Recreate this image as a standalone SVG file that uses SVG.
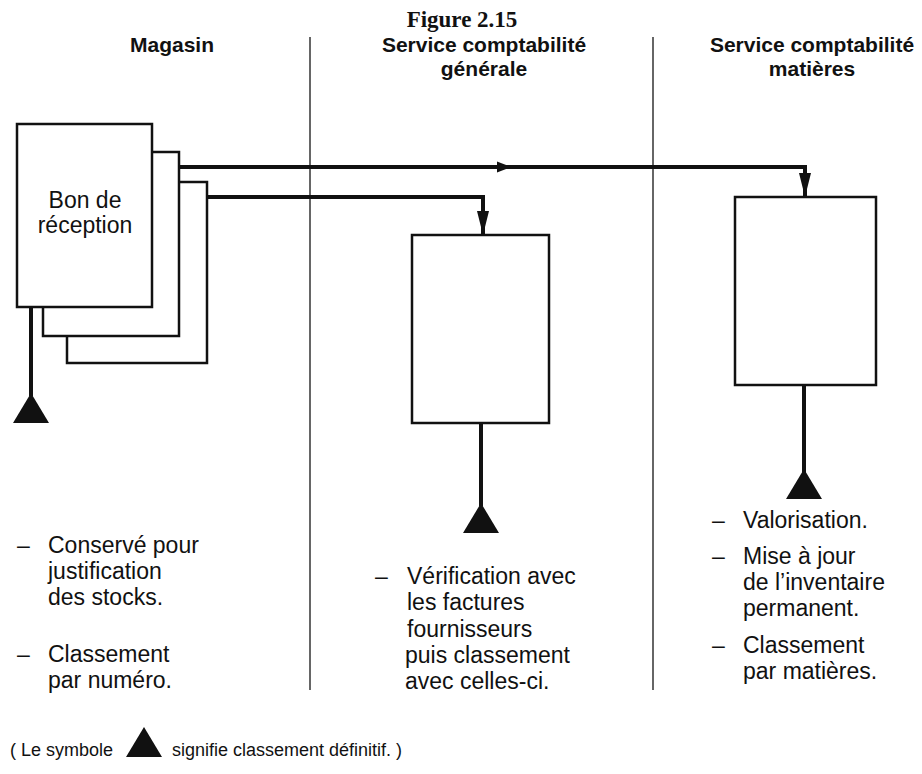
<svg xmlns="http://www.w3.org/2000/svg" width="922" height="774" viewBox="0 0 922 774">
<style>
.title{font-family:"Liberation Serif","Times New Roman",serif;font-weight:bold;font-size:23px;fill:#111}
.head{font-family:"Liberation Sans",Arial,sans-serif;font-weight:bold;font-size:21px;fill:#111}
.body{font-family:"Liberation Sans",Arial,sans-serif;font-size:23px;fill:#111}
.foot{font-family:"Liberation Sans",Arial,sans-serif;font-size:18px;fill:#111}
.doc{fill:#fff;stroke:#111;stroke-width:2.5}
.divider{stroke:#333;stroke-width:1.5;fill:none}
.flow{stroke:#111;stroke-width:4;fill:none}
.tri{fill:#111}
</style>
<defs>
<marker id="arrow" markerUnits="userSpaceOnUse" viewBox="0 0 24 12" markerWidth="24" markerHeight="12" refX="24" refY="6" orient="auto">
<path d="M0,0 L24,6 L0,12 z" fill="#111"/>
</marker>
<symbol id="archive" viewBox="0 0 36 30" width="36" height="30" preserveAspectRatio="none">
<polygon points="18,0 36,30 0,30" class="tri"/>
</symbol>
</defs>

<text class="title" x="462" y="27" text-anchor="middle">Figure 2.15</text>

<g id="headers">
<text class="head" x="172" y="52" text-anchor="middle">Magasin</text>
<text class="head" x="484" y="52" text-anchor="middle">Service comptabilité</text>
<text class="head" x="484" y="76" text-anchor="middle">générale</text>
<text class="head" x="812" y="52" text-anchor="middle">Service comptabilité</text>
<text class="head" x="812" y="76" text-anchor="middle">matières</text>
</g>

<g id="dividers">
<line class="divider" x1="310" y1="37" x2="310" y2="690"/>
<line class="divider" x1="653" y1="37" x2="653" y2="690"/>
</g>

<g id="connectors">
<path class="flow" d="M179,167 H805 V197" marker-end="url(#arrow)"/>
<polygon points="497,161.5 511,167 497,172.5" class="tri"/>
<path class="flow" d="M207,197 H483 V235" marker-end="url(#arrow)"/>
<path class="flow" d="M31,307 V396"/>
<use href="#archive" x="13" y="393"/>
<path class="flow" d="M481,423 V506"/>
<use href="#archive" x="463" y="503"/>
<path class="flow" d="M804,385 V473"/>
<use href="#archive" x="786" y="469"/>
</g>

<g id="bon-de-reception">
<rect class="doc" x="67" y="182" width="140" height="181"/>
<rect class="doc" x="43" y="152" width="136" height="184"/>
<rect class="doc" x="17" y="124" width="135" height="183"/>
<text class="body" x="85" y="208" text-anchor="middle">Bon de</text>
<text class="body" x="85" y="233" text-anchor="middle">réception</text>
</g>

<g id="box-generale">
<rect class="doc" x="412" y="235" width="137" height="188"/>
</g>

<g id="box-matieres">
<rect class="doc" x="735" y="197" width="141" height="188"/>
</g>

<g id="notes-magasin">
<text class="body"><tspan x="17" y="553">–</tspan><tspan x="48" y="553">Conservé pour</tspan></text>
<text class="body" x="48" y="579">justification</text>
<text class="body" x="48" y="605">des stocks.</text>
<text class="body"><tspan x="17" y="662">–</tspan><tspan x="48" y="662">Classement</tspan></text>
<text class="body" x="48" y="688">par numéro.</text>
</g>

<g id="notes-generale">
<text class="body"><tspan x="375" y="584">–</tspan><tspan x="407" y="584">Vérification avec</tspan></text>
<text class="body" x="407" y="610">les factures</text>
<text class="body" x="407" y="637">fournisseurs</text>
<text class="body" x="405" y="663">puis classement</text>
<text class="body" x="405" y="689">avec celles-ci.</text>
</g>

<g id="notes-matieres">
<text class="body"><tspan x="712" y="528">–</tspan><tspan x="743" y="528">Valorisation.</tspan></text>
<text class="body"><tspan x="712" y="564">–</tspan><tspan x="743" y="564">Mise à jour</tspan></text>
<text class="body" x="743" y="590">de l’inventaire</text>
<text class="body" x="743" y="616">permanent.</text>
<text class="body"><tspan x="712" y="653">–</tspan><tspan x="743" y="653">Classement</tspan></text>
<text class="body" x="743" y="679">par matières.</text>
</g>

<g id="legend">
<text class="foot" x="10" y="756">( Le symbole</text>
<use href="#archive" x="126" y="727" width="36" height="30"/>
<text class="foot" x="172" y="756">signifie classement définitif. )</text>
</g>
</svg>
